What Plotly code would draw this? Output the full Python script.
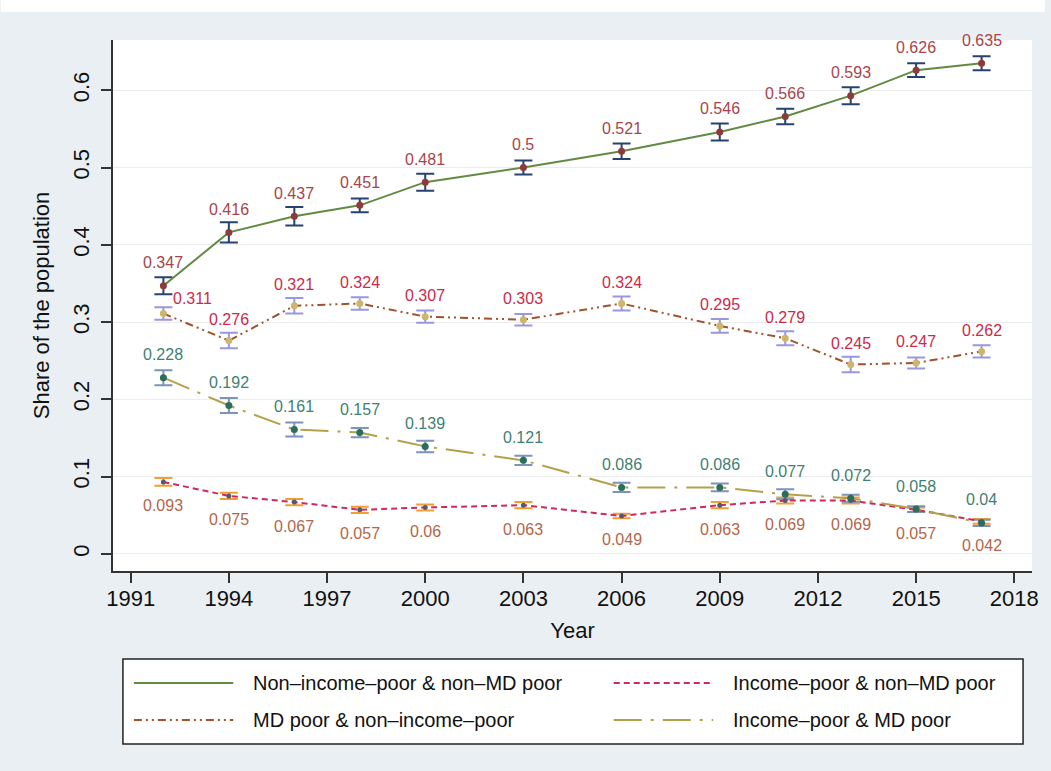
import plotly.graph_objects as go

# Survey years
years = [1992, 1994, 1996, 1998, 2000, 2003, 2006, 2009, 2011, 2013, 2015, 2017]

# Share of the population in each group
non_income_poor_non_md = [0.347, 0.416, 0.437, 0.451, 0.481, 0.5, 0.521, 0.546, 0.566, 0.593, 0.626, 0.635]
md_poor_non_income = [0.311, 0.276, 0.321, 0.324, 0.307, 0.303, 0.324, 0.295, 0.279, 0.245, 0.247, 0.262]
income_poor_md = [0.228, 0.192, 0.161, 0.157, 0.139, 0.121, 0.086, 0.086, 0.077, 0.072, 0.058, 0.04]
income_poor_non_md = [0.093, 0.075, 0.067, 0.057, 0.06, 0.063, 0.049, 0.063, 0.069, 0.069, 0.057, 0.042]

# Half-widths of the confidence intervals
ci_non_income_poor_non_md = [0.011, 0.013, 0.012, 0.009, 0.011, 0.009, 0.010, 0.011, 0.010, 0.011, 0.009, 0.009]
ci_md_poor_non_income = [0.008, 0.010, 0.010, 0.008, 0.008, 0.0075, 0.009, 0.009, 0.009, 0.010, 0.007, 0.008]
ci_income_poor_md = [0.0097, 0.0097, 0.009, 0.006, 0.0075, 0.006, 0.006, 0.005, 0.0065, 0.0045, 0.0037, 0.004]
ci_income_poor_non_md = [0.005, 0.004, 0.004, 0.004, 0.004, 0.004, 0.003, 0.004, 0.004, 0.004, 0.003, 0.003]

x_ticks = [1991, 1994, 1997, 2000, 2003, 2006, 2009, 2012, 2015, 2018]
y_ticks = [0, 0.1, 0.2, 0.3, 0.4, 0.5, 0.6]
y_tick_text = ["0", "0.1", "0.2", "0.3", "0.4", "0.5", "0.6"]

FONT = "Liberation Sans, Arial, sans-serif"

series = [
    dict(name="Non\u2013income\u2013poor & non\u2013MD poor", y=non_income_poor_non_md,
         ci=ci_non_income_poor_non_md, line="#638a42", dash="solid", err="#27426e",
         marker="#8c3a3a", msize=7, label="#a9444a", shift=23),
    dict(name="Income\u2013poor & non\u2013MD poor", y=income_poor_non_md,
         ci=ci_income_poor_non_md, line="#d0285a", dash="6px,4px", err="#f0a030",
         marker="#5b5577", msize=5, label="#b5654a", shift=-24),
    dict(name="MD poor & non\u2013income\u2013poor", y=md_poor_non_income,
         ci=ci_md_poor_non_income, line="#a0522d", dash="8px,4px,2px,4px,2px,4px", err="#9b96e0",
         marker="#cdb56a", msize=7, label="#d0284a", shift=21),
    dict(name="Income\u2013poor & MD poor", y=income_poor_md,
         ci=ci_income_poor_md, line="#b5a04a", dash="28px,9px,3px,9px", err="#7d93b8",
         marker="#2c6e5e", msize=7, label="#3f7f74", shift=23),
]

fig = go.Figure()

# Confidence-interval caps drawn underneath the lines
for s in series:
    fig.add_trace(go.Scatter(
        x=years, y=s["y"], mode="markers",
        marker=dict(size=1, color="rgba(0,0,0,0)"),
        error_y=dict(type="data", array=s["ci"], color=s["err"], thickness=2, width=9),
        showlegend=False, hoverinfo="skip",
    ))

for s in series:
    fig.add_trace(go.Scatter(
        x=years, y=s["y"], mode="lines+markers", name=s["name"],
        line=dict(color=s["line"], width=2, dash=s["dash"]),
        marker=dict(color=s["marker"], size=s["msize"]),
        showlegend=False,
    ))

# Value labels on each point
annotations = []
for s in series:
    for i, (xv, yv) in enumerate(zip(years, s["y"])):
        xshift, yshift = 0, s["shift"]
        if s["y"] is md_poor_non_income and i == 0:
            xshift, yshift = 29, 15
        annotations.append(dict(
            x=xv, y=yv, xref="x", yref="y", text=f"{yv:g}", showarrow=False,
            xshift=xshift, yshift=yshift,
            font=dict(family=FONT, size=16, color=s["label"]),
        ))

# Legend box below the plot
ml, mr, mt, mb = 113, 13, 40, 200
pw = 1051 - ml - mr
ph = 771 - mt - mb


def px_x(px):
    return (px - ml) / pw


def px_y(py):
    return (771 - mb - py) / ph


shapes = [
    # white band along the top edge
    dict(type="rect", xref="paper", yref="paper", x0=px_x(0), x1=px_x(1051),
         y0=px_y(12), y1=px_y(0), fillcolor="white", line=dict(width=0), layer="below"),
    dict(type="rect", xref="paper", yref="paper", x0=px_x(123), x1=px_x(1029),
         y0=px_y(744), y1=px_y(659), fillcolor="white",
         line=dict(color="#222222", width=1.5)),
]

legend_slots = [(134, 683), (617, 683), (134, 720), (617, 720)]
for s, (lx, ly) in zip(series, legend_slots):
    shapes.append(dict(type="line", xref="paper", yref="paper",
                       x0=px_x(lx), x1=px_x(lx + 100), y0=px_y(ly), y1=px_y(ly),
                       line=dict(color=s["line"], width=2, dash=s["dash"])))
    annotations.append(dict(x=px_x(lx + 118), y=px_y(ly), xref="paper", yref="paper",
                            xanchor="left", yanchor="middle", showarrow=False,
                            text=s["name"], font=dict(family=FONT, size=20, color="#111111")))

fig.update_layout(
    width=1051, height=771,
    margin=dict(l=ml, r=mr, t=mt, b=mb),
    paper_bgcolor="#e9eff2",
    plot_bgcolor="white",
    font=dict(family=FONT, size=22, color="#111111"),
    shapes=shapes,
    annotations=annotations,
    showlegend=False,
)

fig.update_xaxes(
    range=[1990.46, 2018.54], tickmode="array", tickvals=x_ticks,
    ticks="outside", ticklen=10, tickwidth=1.5, tickcolor="#333333",
    showline=True, linecolor="#333333", linewidth=1.5, showgrid=False, zeroline=False,
    tickfont=dict(family=FONT, size=22, color="#111111"), ticklabelstandoff=-3,
    title=dict(text="Year", font=dict(family=FONT, size=22, color="#111111"), standoff=12),
)

fig.update_yaxes(
    range=[-0.0222, 0.665], tickmode="array", tickvals=y_ticks, ticktext=y_tick_text,
    tickangle=-90,
    ticks="outside", ticklen=10, tickwidth=1.5, tickcolor="#333333",
    showline=True, linecolor="#333333", linewidth=1.5,
    showgrid=True, gridcolor="#ececec", gridwidth=1, zeroline=False,
    tickfont=dict(family=FONT, size=22, color="#111111"), ticklabelstandoff=3,
    title=dict(text="Share of the population", font=dict(family=FONT, size=22, color="#111111"), standoff=14),
)

fig.write_html("out.html")
